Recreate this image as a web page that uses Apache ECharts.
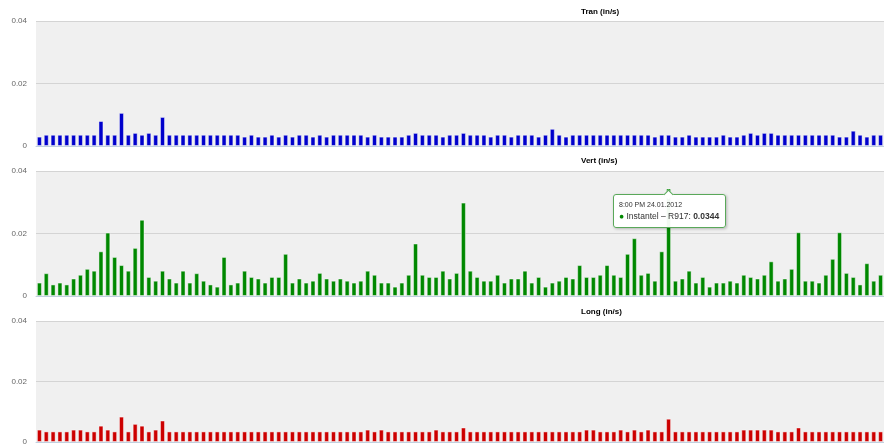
<!DOCTYPE html>
<html>
<head>
<meta charset="utf-8">
<script src="https://cdn.jsdelivr.net/npm/echarts@6/dist/echarts.min.js"></script>
<style>
  html, body { margin: 0; padding: 0; background: #fff; }
  #main { width: 884px; height: 446px; }
</style>
</head>
<body>
<div id="main"></div>
<script>
// hourly readings from 21.01.2012 00:00
var startDay = 21;
var hourCount = 124;

var tranValues = [
  0.003, 0.0036, 0.0036, 0.0036, 0.0036, 0.0036, 0.0036, 0.0036, 0.0036, 0.008,
  0.0036, 0.0036, 0.0106, 0.0036, 0.0042, 0.0036, 0.0042, 0.0036, 0.0093, 0.0036,
  0.0036, 0.0036, 0.0036, 0.0036, 0.0036, 0.0036, 0.0036, 0.0036, 0.0036, 0.0036,
  0.003, 0.0036, 0.003, 0.003, 0.0036, 0.003, 0.0036, 0.003, 0.0036, 0.0036,
  0.003, 0.0036, 0.003, 0.0036, 0.0036, 0.0036, 0.0036, 0.0036, 0.003, 0.0036,
  0.003, 0.003, 0.003, 0.003, 0.0036, 0.0042, 0.0036, 0.0036, 0.0036, 0.003,
  0.0036, 0.0036, 0.0042, 0.0036, 0.0036, 0.0036, 0.003, 0.0036, 0.0036, 0.003,
  0.0036, 0.0036, 0.0036, 0.003, 0.0036, 0.0055, 0.0036, 0.003, 0.0036, 0.0036,
  0.0036, 0.0036, 0.0036, 0.0036, 0.0036, 0.0036, 0.0036, 0.0036, 0.0036, 0.0036,
  0.003, 0.0036, 0.0036, 0.003, 0.003, 0.0036, 0.003, 0.003, 0.003, 0.003,
  0.0036, 0.003, 0.003, 0.0036, 0.0042, 0.0036, 0.0042, 0.0042, 0.0036, 0.0036,
  0.0036, 0.0036, 0.0036, 0.0036, 0.0036, 0.0036, 0.0036, 0.003, 0.003, 0.0049,
  0.0036, 0.003, 0.0036, 0.0036
];

var vertValues = [
  0.0043, 0.0073, 0.0037, 0.0043, 0.0037, 0.0056, 0.0068, 0.0087, 0.0081, 0.0143,
  0.0203, 0.0125, 0.0099, 0.0081, 0.0154, 0.0244, 0.0061, 0.0049, 0.0081, 0.0056,
  0.0043, 0.0081, 0.0043, 0.0073, 0.0049, 0.0037, 0.003, 0.0125, 0.0037, 0.0043,
  0.0081, 0.0061, 0.0056, 0.0043, 0.0061, 0.0061, 0.0135, 0.0043, 0.0056, 0.0043,
  0.0049, 0.0074, 0.0056, 0.0049, 0.0056, 0.0049, 0.0043, 0.0049, 0.0081, 0.0068,
  0.0043, 0.0043, 0.003, 0.0043, 0.0068, 0.0168, 0.0068, 0.0061, 0.0061, 0.0081,
  0.0056, 0.0074, 0.0299, 0.0081, 0.0061, 0.0049, 0.0049, 0.0068, 0.0043, 0.0056,
  0.0056, 0.0081, 0.0043, 0.0061, 0.003, 0.0043, 0.0049, 0.0061, 0.0056, 0.0099,
  0.0061, 0.0061, 0.0068, 0.0099, 0.0068, 0.0061, 0.0135, 0.0185, 0.0068, 0.0074,
  0.0049, 0.0143, 0.0344, 0.0049, 0.0056, 0.0081, 0.0043, 0.0061, 0.003, 0.0043,
  0.0043, 0.0049, 0.0043, 0.0068, 0.0061, 0.0056, 0.0068, 0.0111, 0.0049, 0.0056,
  0.0087, 0.0204, 0.0049, 0.0049, 0.0043, 0.0068, 0.0119, 0.0204, 0.0074, 0.0061,
  0.0037, 0.0105, 0.0049, 0.0068
];

var longValues = [
  0.0041, 0.0035, 0.0035, 0.0035, 0.0035, 0.0041, 0.0041, 0.0035, 0.0035, 0.0054,
  0.0041, 0.0035, 0.0084, 0.0035, 0.006, 0.0054, 0.0035, 0.0041, 0.0071, 0.0035,
  0.0035, 0.0035, 0.0035, 0.0035, 0.0035, 0.0035, 0.0035, 0.0035, 0.0035, 0.0035,
  0.0035, 0.0035, 0.0035, 0.0035, 0.0035, 0.0035, 0.0035, 0.0035, 0.0035, 0.0035,
  0.0035, 0.0035, 0.0035, 0.0035, 0.0035, 0.0035, 0.0035, 0.0035, 0.0041, 0.0035,
  0.0041, 0.0035, 0.0035, 0.0035, 0.0035, 0.0035, 0.0035, 0.0035, 0.0041, 0.0035,
  0.0035, 0.0035, 0.0048, 0.0035, 0.0035, 0.0035, 0.0035, 0.0035, 0.0035, 0.0035,
  0.0035, 0.0035, 0.0035, 0.0035, 0.0035, 0.0035, 0.0035, 0.0035, 0.0035, 0.0035,
  0.0041, 0.0041, 0.0035, 0.0035, 0.0035, 0.0041, 0.0035, 0.0041, 0.0035, 0.0041,
  0.0035, 0.0035, 0.0077, 0.0035, 0.0035, 0.0035, 0.0035, 0.0035, 0.0035, 0.0035,
  0.0035, 0.0035, 0.0035, 0.0041, 0.0041, 0.0041, 0.0041, 0.0041, 0.0035, 0.0035,
  0.0035, 0.0048, 0.0035, 0.0035, 0.0035, 0.0035, 0.0035, 0.0035, 0.0035, 0.0035,
  0.0035, 0.0035, 0.0035, 0.0035
];

var panelTitles = ['Tran (in/s)', 'Vert (in/s)', 'Long (in/s)'];
var seriesName = 'Instantel \u2013 R917';
var yTicks = [0, 0.02, 0.04];

// category labels like "8:00 PM 24.01.2012"
var categories = [];
for (var i = 0; i < hourCount; i++) {
  var day = startDay + Math.floor(i / 24);
  var h = i % 24;
  var h12 = h % 12 === 0 ? 12 : h % 12;
  categories.push(h12 + ':00 ' + (h < 12 ? 'AM' : 'PM') + ' ' + day + '.01.2012');
}

var colors = ['#0000cc', '#008800', '#cc0000'];
var allValues = [tranValues, vertValues, longValues];
var tops = [21, 171, 321];
var titleTops = [8, 157, 308];

var grids = [], xAxes = [], yAxes = [], series = [], titles = [];
for (var p = 0; p < 3; p++) {
  grids.push({
    left: 36, width: 848, top: tops[p], height: 125,
    show: true, backgroundColor: '#f0f0f0', borderWidth: 0
  });
  titles.push({
    text: panelTitles[p], left: 581, top: titleTops[p], padding: 0,
    textStyle: { fontFamily: 'Liberation Sans', fontSize: 8, fontWeight: 'bold', color: '#000' }
  });
  xAxes.push({
    type: 'category', gridIndex: p, data: categories,
    axisLine: { lineStyle: { color: '#c0d0e0' } },
    axisTick: { alignWithLabel: true, interval: 7, length: 5, lineStyle: { color: '#c0d0e0' } },
    axisLabel: { show: false }
  });
  yAxes.push({
    type: 'value', gridIndex: p, min: yTicks[0], max: yTicks[2], interval: yTicks[1],
    axisLine: { show: false }, axisTick: { show: false },
    axisLabel: { margin: 9, fontFamily: 'Liberation Sans', fontSize: 8, color: '#666' },
    splitLine: { lineStyle: { color: '#d4d4d4' } }
  });
  series.push({
    type: 'bar', name: seriesName, xAxisIndex: p, yAxisIndex: p,
    data: allValues[p], barWidth: 5,
    itemStyle: { color: colors[p], borderColor: 'rgba(255,255,255,0.45)', borderWidth: 1 },
    emphasis: { disabled: true }
  });
}

var chart = echarts.init(document.getElementById('main'));
var tipPos = [0, 0];

chart.setOption({
  animation: false,
  title: titles,
  grid: grids,
  xAxis: xAxes,
  yAxis: yAxes,
  tooltip: {
    trigger: 'item',
    triggerOn: 'none',
    alwaysShowContent: true,
    transitionDuration: 0,
    backgroundColor: 'rgba(255,255,255,0.95)',
    borderColor: '#5aa85a',
    borderWidth: 1,
    padding: [5, 6, 5, 5],
    extraCssText: 'box-shadow:1px 1px 3px rgba(0,0,0,0.25);border-radius:3px;',
    position: function () { return tipPos; },
    formatter: function (params) {
      return '<div style="position:absolute;left:51px;top:-4px;width:6px;height:6px;background:#fff;' +
        'border-left:1px solid #5aa85a;border-top:1px solid #5aa85a;transform:rotate(45deg)"></div>' +
        '<div style="font-family:Liberation Sans;font-size:7px;line-height:10px;color:#333">' + params.name + '</div>' +
        '<div style="font-family:Liberation Sans;font-size:8.5px;line-height:12px;color:#333">' +
        '<span style="color:' + params.color + '">\u25CF</span> ' + params.seriesName + ': <b>' + params.value + '</b></div>';
    }
  },
  series: series
});

// tooltip on the tallest Vert bar
var tipIndex = 92;
var pt = chart.convertToPixel({ xAxisIndex: 1, yAxisIndex: 1 }, [tipIndex, vertValues[tipIndex]]);
tipPos = [pt[0] - 56, pt[1] + 5];
chart.dispatchAction({ type: 'showTip', seriesIndex: 1, dataIndex: tipIndex });
</script>
</body>
</html>
